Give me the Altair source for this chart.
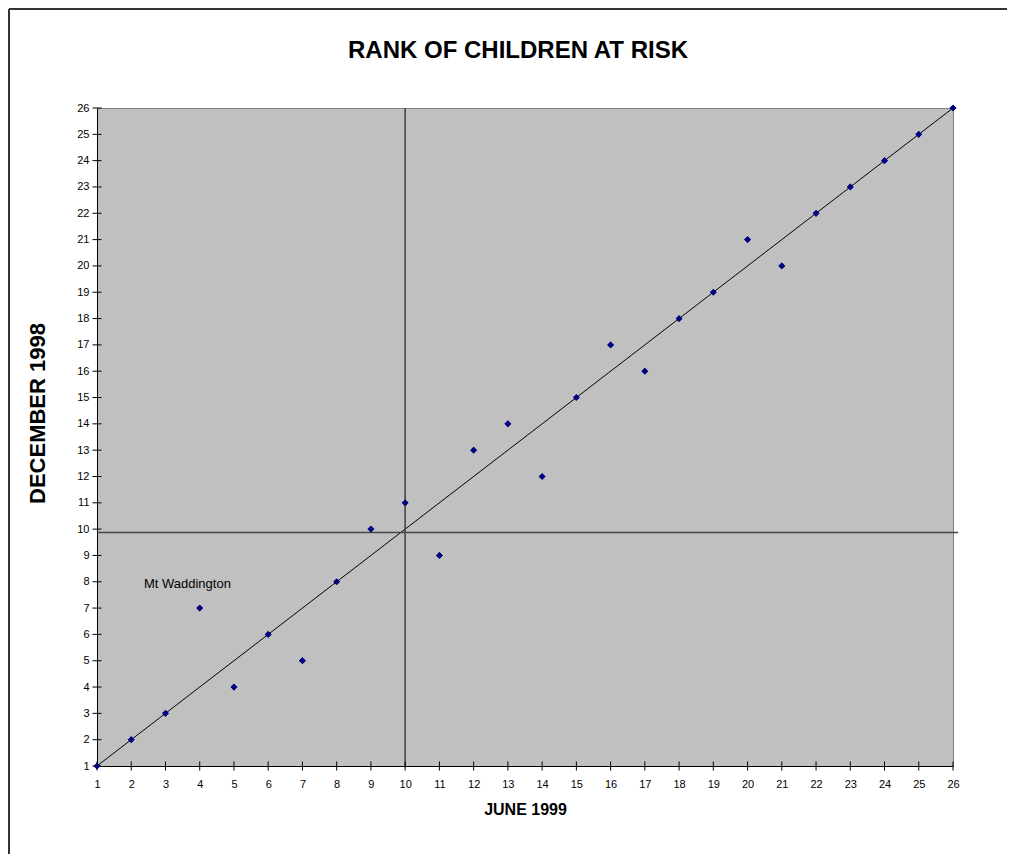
import altair as alt
import pandas as pd

# Data
june_1999 = list(range(1, 27))
dec_1998 = [1, 2, 3, 7, 4, 6, 5, 8, 10, 11, 9, 13, 14, 12, 15, 17, 16, 18, 19, 21, 20, 22, 23, 24, 25, 26]
tick_values = list(range(1, 27))
diag_start = [1]
diag_end = [26]
v_ref = [10]
h_ref = [9.87]
h_ref_end = [26.15]
label_text = ["Mt Waddington"]
label_pos = [(2.37, 7.75)]
title_text = ["RANK OF CHILDREN AT RISK"]

FONT = "Liberation Sans"
W, H = 856, 658

pts = pd.DataFrame({"x": june_1999, "y": dec_1998})

xs = alt.Scale(domain=[1, 26], nice=False, zero=False)
ys = alt.Scale(domain=[1, 26], nice=False, zero=False)

xaxis = alt.Axis(values=tick_values, title="JUNE 1999", grid=False, ticks=False,
                 domainColor="#000000", domainWidth=1, labelFont=FONT, labelFontSize=11,
                 labelColor="#000000", labelPadding=12, titleFont=FONT, titleFontSize=16,
                 titleFontWeight="bold", titleColor="#000000", titlePadding=12,
                 labelFlush=False, labelOverlap=False, labelBound=False)
yaxis = alt.Axis(values=tick_values, title="DECEMBER 1998", grid=False, ticks=False,
                 domainColor="#000000", domainWidth=1, labelFont=FONT, labelFontSize=11,
                 labelColor="#000000", labelPadding=8, titleFont=FONT, titleFontSize=22,
                 titleFontWeight="bold", titleColor="#000000", titlePadding=27, titleY=305,
                 labelFlush=False, labelOverlap=False, labelBound=False)

def X(f):
    return alt.X(f, type="quantitative", scale=xs, axis=xaxis)

def Y(f):
    return alt.Y(f, type="quantitative", scale=ys, axis=yaxis)

points = alt.Chart(pts).mark_point(shape="diamond", filled=True, size=45, color="#000080", opacity=1).encode(
    x=X("x"), y=Y("y"))

diag = alt.Chart(pd.DataFrame({"x": diag_start, "y": diag_start, "x2": diag_end, "y2": diag_end})).mark_rule(
    color="#000000", strokeWidth=1).encode(x=X("x"), y=Y("y"), x2="x2:Q", y2="y2:Q")

vline = alt.Chart(pd.DataFrame({"x": v_ref, "y": diag_start, "y2": diag_end})).mark_rule(
    color="#454545", strokeWidth=1.6).encode(x=X("x"), y=Y("y"), y2="y2:Q")

hline = alt.Chart(pd.DataFrame({"y": h_ref, "x": diag_start, "x2": h_ref_end})).mark_rule(
    color="#454545", strokeWidth=1.6).encode(y=Y("y"), x=X("x"), x2="x2:Q")

xticks = alt.Chart(pd.DataFrame({"t": tick_values, "b": [1] * len(tick_values)})).mark_tick(
    orient="vertical", size=9, thickness=1, color="#000000", opacity=1).encode(x=X("t"), y=Y("b"))
yticks = alt.Chart(pd.DataFrame({"t": tick_values, "b": [1] * len(tick_values)})).mark_tick(
    orient="horizontal", size=9, thickness=1, color="#000000", opacity=1).encode(y=Y("t"), x=X("b"))

label = alt.Chart(pd.DataFrame({"x": [p[0] for p in label_pos], "y": [p[1] for p in label_pos], "t": label_text})).mark_text(
    align="left", baseline="alphabetic", font=FONT, fontSize=13, color="#000000").encode(
    x=X("x"), y=Y("y"), text="t:N")

title = alt.Chart(pd.DataFrame({"t": title_text})).mark_text(
    align="center", baseline="alphabetic", font=FONT, fontSize=24, fontWeight="bold", color="#000000").encode(
    x=alt.value(421), y=alt.value(-50), text="t:N")

border_top = alt.Chart(pd.DataFrame({"a": [0]})).mark_rule(color="#333333", strokeWidth=2).encode(
    x=alt.value(-88), x2=alt.value(2000), y=alt.value(-99))
border_left = alt.Chart(pd.DataFrame({"a": [0]})).mark_rule(color="#333333", strokeWidth=2).encode(
    x=alt.value(-88), y=alt.value(-99), y2=alt.value(2000))

chart = alt.layer(points, diag, vline, hline, xticks, yticks, label, points, title, border_top, border_left).properties(
    width=W, height=H,
    autosize=alt.AutoSizeParams(type="none"),
    padding={"left": 89, "top": 100, "right": 54, "bottom": 88},
).configure_view(fill="#C0C0C0", stroke="#808080", strokeWidth=1).configure_axis(labelOverlap=False)

chart.save("out.html", embed_options={"renderer": "svg", "actions": False})
